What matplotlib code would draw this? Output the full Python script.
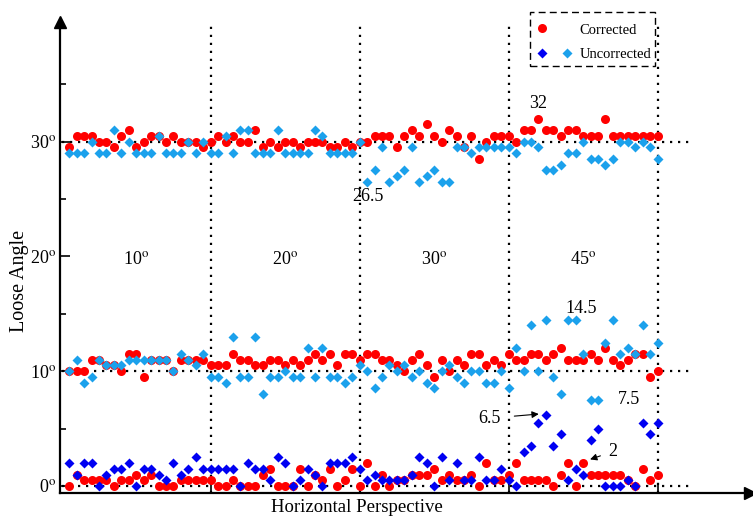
import matplotlib
matplotlib.use('Agg')
import matplotlib.pyplot as plt
from matplotlib.legend_handler import HandlerTuple
from matplotlib.lines import Line2D
from matplotlib.patches import Rectangle

plt.rcParams['font.family'] = ['Liberation Serif', 'DejaVu Serif']
plt.rcParams['mathtext.fontset'] = 'stix'

# sample index along the horizontal perspective (20 samples per angle group)
x = list(range(1, 81))

# ---- top group (around 30 deg) ----
corrected_top = [29.5, 30.5, 30.5, 30.5, 30, 30, 29.5, 30.5, 31, 29.5,
                 30, 30.5, 30.5, 30, 30.5, 30, 30, 30, 29.5, 30,
                 30.5, 30, 30.5, 30, 30, 31, 29.5, 30, 29.5, 30,
                 30, 29.5, 30, 30, 30, 29.5, 29.5, 30, 29.5, 30,
                 30, 30.5, 30.5, 30.5, 29.5, 30.5, 31, 30.5, 31.5, 30.5,
                 30, 31, 30.5, 29.5, 30.5, 28.5, 30, 30.5, 30.5, 30.5,
                 30, 31, 31, 32, 31, 31, 30.5, 31, 31, 30.5,
                 30.5, 30.5, 32, 30.5, 30.5, 30.5, 30.5, 30.5, 30.5, 30.5]
uncorrected_top = [29, 29, 29, 30, 29, 29, 31, 29, 30, 29,
                   29, 29, 30.5, 29, 29, 29, 30, 29, 30, 29,
                   29, 30.5, 29, 31, 31, 29, 29, 29, 31, 29,
                   29, 29, 29, 31, 30.5, 29, 29, 29, 29, 30,
                   26.5, 27.5, 29.5, 26.5, 27, 27.5, 29.5, 26.5, 27, 27.5,
                   26.5, 26.5, 29.5, 29.5, 29, 29.5, 29.5, 29.5, 29.5, 29.5,
                   29, 30, 30, 29.5, 27.5, 27.5, 28, 29, 29, 30,
                   28.5, 28.5, 28, 28.5, 30, 30, 29.5, 30, 29.5, 28.5]

# ---- middle group (around 10 deg) ----
corrected_mid = [10, 10, 10, 11, 11, 10.5, 10.5, 10, 11.5, 11.5,
                 9.5, 11, 11, 11, 10, 11, 11, 11, 11, 10.5,
                 10.5, 10.5, 11.5, 11, 11, 10.5, 10.5, 11, 11, 10.5,
                 11, 10.5, 11, 11.5, 11, 11.5, 10.5, 11.5, 11.5, 11,
                 11.5, 11.5, 11, 11, 10.5, 10, 11, 11.5, 10.5, 9.5,
                 11, 10, 11, 10.5, 11.5, 11.5, 10.5, 11, 10.5, 11.5,
                 11, 11, 11.5, 11.5, 11, 11.5, 12, 11, 11, 11,
                 11.5, 11, 12, 11, 10.5, 11, 11.5, 11.5, 9.5, 10]
uncorrected_mid = [10, 11, 9, 9.5, 11, 10.5, 10.5, 10.5, 11, 11,
                   11, 11, 11, 11, 10, 11.5, 11, 10.5, 11.5, 9.5,
                   9.5, 9, 13, 9.5, 9.5, 13, 8, 9.5, 9.5, 10,
                   9.5, 9.5, 12, 9.5, 12, 9.5, 9.5, 9, 9.5, 10.5,
                   10, 8.5, 9.5, 10.5, 10, 10.5, 9.5, 10, 9, 8.5,
                   10, 10.5, 9.5, 9, 10, 10, 9, 9, 10, 8.5,
                   12, 10, 14, 10, 14.5, 9.5, 8, 14.5, 14.5, 11.5,
                   7.5, 7.5, 12.5, 14.5, 11.5, 12, 11.5, 14, 11.5, 12.5]

# ---- bottom group (around 0 deg) ----
corrected_bot = [0, 1, 0.5, 0.5, 0.5, 0.5, 0, 0.5, 0.5, 1,
                 0.5, 1, 0, 0, 0, 0.5, 0.5, 0.5, 0.5, 0.5,
                 0, 0, 0.5, 0, 0, 0, 1, 1.5, 0, 0,
                 0, 1.5, 0, 1, 0.5, 1.5, 0, 0.5, 1.5, 0,
                 2, 0, 1, 0, 0.5, 0.5, 1, 1, 1, 1.5,
                 0.5, 1, 0.5, 0.5, 1, 0, 2, 0.5, 0.5, 1,
                 2, 0.5, 0.5, 0.5, 0.5, 0, 1, 2, 0, 2,
                 1, 1, 1, 1, 1, 0.5, 0, 1.5, 0.5, 1]
uncorrected_bot = [2, 1, 2, 2, 0, 1, 1.5, 1.5, 2, 0,
                   1.5, 1.5, 1, 0.5, 2, 1, 1.5, 2.5, 1.5, 1.5,
                   1.5, 1.5, 1.5, 0, 2, 1.5, 1.5, 0.5, 2.5, 2,
                   0, 0.5, 1.5, 1, 0, 2, 2, 2, 2.5, 1.5,
                   0.5, 1, 0.5, 0.5, 0.5, 0.5, 1, 2.5, 2, 0,
                   2.5, 0.5, 2, 0.5, 0.5, 2.5, 0.5, 0.5, 1.5, 0.5,
                   0, 3, 3.5, 5.5, 6.2, 3.5, 4.5, 0.5, 1.5, 1,
                   4, 5, 0, 0, 0, 0.5, 0, 5.5, 4.5, 5.5]

ref_levels = [0, 10, 30]
group_edges = [20, 40, 60, 80]
group_labels = ['10', '20', '30', '45']
group_centers = [10, 30, 50, 70]
y_ticks = [0, 10, 20, 30]
y_minor = [5, 15, 25, 35]

RED = '#FF0000'
DARK = '#0000F2'
LIGHT = '#1BA1EC'
DEG = r'$^{\rm o}$'

fig = plt.figure(figsize=(7.53, 5.2), dpi=100)
ax = fig.add_axes([60 / 753, 27 / 520, 690 / 753, 471 / 520])
ax.set_xlim(-0.23, 92.4)
ax.set_ylim(-0.61, 40.42)

dots = (0, (1, 2.6))
ax.hlines(ref_levels, 0, 84.8, colors='k', linestyles=dots, lw=1.6, zorder=1)
ax.vlines(group_edges, -0.61, 40.4, colors='k', linestyles=dots, lw=1.6, zorder=1)

ms_c = 6.5
ms_d = 5.2
for ys in (corrected_top, corrected_mid, corrected_bot):
    ax.plot(x, ys, 'o', color=RED, ms=ms_c, mec='none', zorder=3, clip_on=False)
ax.plot(x, uncorrected_top, 'D', color=LIGHT, ms=ms_d, mec='none', zorder=4)
ax.plot(x, uncorrected_mid, 'D', color=LIGHT, ms=ms_d, mec='none', zorder=4)
ax.plot(x, uncorrected_bot, 'D', color=DARK, ms=ms_d, mec='none', zorder=4, clip_on=False)

# axes styling
for s in ('top', 'right'):
    ax.spines[s].set_visible(False)
for s in ('left', 'bottom'):
    ax.spines[s].set_linewidth(1.6)
ax.plot(0, 1, '^', color='k', ms=9, transform=ax.transAxes, clip_on=False)
ax.plot(1, 0, '>', color='k', ms=9, transform=ax.transAxes, clip_on=False)

ax.set_yticks(y_ticks)
ax.set_yticklabels([f'{v}' + DEG for v in y_ticks], fontsize=13)
ax.set_yticks(y_minor, minor=True)
ax.set_xticks(group_edges)
ax.set_xticklabels([])
ax.tick_params(axis='y', which='major', direction='in', length=7, width=1.2, pad=3)
ax.tick_params(axis='y', which='minor', direction='in', length=4, width=1.2)
ax.tick_params(axis='x', which='major', direction='in', length=7, width=1.2)

fig.text(357 / 753, 1 - 508 / 520, 'Horizontal Perspective', ha='center', va='center', fontsize=13.5)
fig.text(20 / 753, 1 - 281 / 520, 'Loose Angle', ha='center', va='center', rotation=90, fontsize=14.5)

for cx, lab in zip(group_centers, group_labels):
    ax.text(cx, 19.7, lab + DEG, ha='center', va='center', fontsize=13)

ax.text(64.0, 33.3, '32', ha='center', va='center', fontsize=13)
ax.text(41.1, 25.2, '26.5', ha='center', va='center', fontsize=13)
ax.text(69.7, 15.5, '14.5', ha='center', va='center', fontsize=13)
ax.text(76.2, 7.5, '7.5', ha='center', va='center', fontsize=13)
ax.annotate('6.5', xy=(64.6, uncorrected_bot[64] + 0.1), xytext=(57.4, 5.9),
            ha='center', va='center', fontsize=13,
            arrowprops=dict(arrowstyle='-|>', color='k', lw=0.8, mutation_scale=10,
                            shrinkA=8, shrinkB=3))
ax.annotate('2', xy=(70.4, corrected_bot[69] + 0.2), xytext=(74.0, 3.0),
            ha='center', va='center', fontsize=13,
            arrowprops=dict(arrowstyle='-|>', color='k', lw=0.8, mutation_scale=10,
                            shrinkA=4, shrinkB=3))

# legend (frameless) plus a dashed box drawn in figure pixels
h_red = Line2D([], [], marker='o', ls='none', color=RED, ms=ms_c, mec='none')
h_none = Line2D([], [], marker='o', ls='none', color='none', ms=ms_c, mec='none')
h_dark = Line2D([], [], marker='D', ls='none', color=DARK, ms=ms_d, mec='none')
h_light = Line2D([], [], marker='D', ls='none', color=LIGHT, ms=ms_d, mec='none')
leg = fig.legend([(h_red, h_none), (h_dark, h_light)], ['Corrected', 'Uncorrected'],
                 handler_map={tuple: HandlerTuple(ndivide=2, pad=0.71)},
                 loc='upper left', bbox_to_anchor=(530 / 753, 1 - 19 / 520),
                 borderaxespad=0, fontsize=10.5, handlelength=2.71, handletextpad=0.41,
                 borderpad=0.3, labelspacing=0.8, frameon=False)
box = Rectangle((530 / 753, 1 - 66 / 520), 125 / 753, 54 / 520, transform=fig.transFigure,
                fill=False, edgecolor='k', lw=1.0, ls=(0, (5, 3)))
fig.patches.append(box)

fig.savefig('out.png', dpi=100)
